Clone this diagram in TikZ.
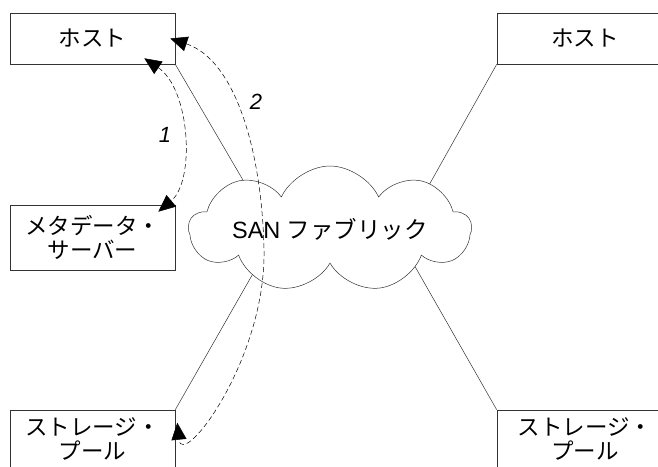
\documentclass[tikz,border=0pt]{standalone}
\usepackage{fontspec}
\setmainfont{Liberation Sans}
\newfontfamily\jp{Noto Sans CJK JP}
\usetikzlibrary{shapes.symbols,arrows.meta,calc}
\begin{document}
\begin{tikzpicture}[x=1pt,y=-1pt,
  >={Triangle[length=17pt,width=15pt]},
  box/.style={draw=black!80, line width=0.6pt, inner sep=0pt, align=center,
    font=\jp\fontsize{22.5}{24}\selectfont},
  link/.style={draw=black!80, line width=0.5pt},
  flow/.style={draw=black, line width=0.5pt, dash pattern=on 5pt off 3pt, <->},
  lbl/.style={font=\itshape\fontsize{22}{24}\selectfont}
  ]
\clip (0,0) rectangle (658,466);
\useasboundingbox (0,0) rectangle (658,466);

% boxes
\node[box, minimum width=165pt, minimum height=51pt] (hostL) at (92.5,38.5) {ホスト};
\node[box, minimum width=165pt, minimum height=65pt] (meta) at (92.5,237.5) {メタデータ・\\サーバー};
\node[box, minimum width=165pt, minimum height=58pt] (storL) at (92.5,439) {ストレージ・\\プール};
\node[box, minimum width=176pt, minimum height=51pt] (hostR) at (585,38.5) {ホスト};
\node[box, minimum width=176pt, minimum height=58pt] (storR) at (585,439) {ストレージ・\\プール};

% hidden targets inside the cloud
\coordinate (t1) at (271,228);
\coordinate (t2) at (405,228);
\coordinate (t3) at (279,228);
\coordinate (t4) at (393,228);
\draw[link] (hostL.south east) -- (t1);
\draw[link] (hostR.south west) -- (t2);
\draw[link] (storL.north east) -- (t3);
\draw[link] (storR.north west) -- (t4);

% cloud
\node[cloud, cloud puffs=9, cloud puff arc=130, cloud ignores aspect,
  draw=black!80, line width=0.5pt, fill=white,
  minimum width=282pt, minimum height=126pt, inner sep=0pt,
  font=\fontsize{23.5}{24}\selectfont] (san) at (330,229) {SAN {\jp ファブリック}};

% dashed flows
\draw[flow] ($(hostL.south east)+(-31,-6)$) .. controls +(46,31) and +(37,-31) .. ($(meta.north east)+(-17,7)$);
\draw[flow] ($(hostL.east)+(-5,0)$) .. controls (235,60) and (262,150) .. (264,250)
   .. controls (266,360) and (182,470) .. ($(storL.north east)+(2,13)$);

% labels
\node[lbl] (l1) at (165,135) {1};
\node[lbl] (l2) at (256,102) {2};
\end{tikzpicture}
\end{document}
